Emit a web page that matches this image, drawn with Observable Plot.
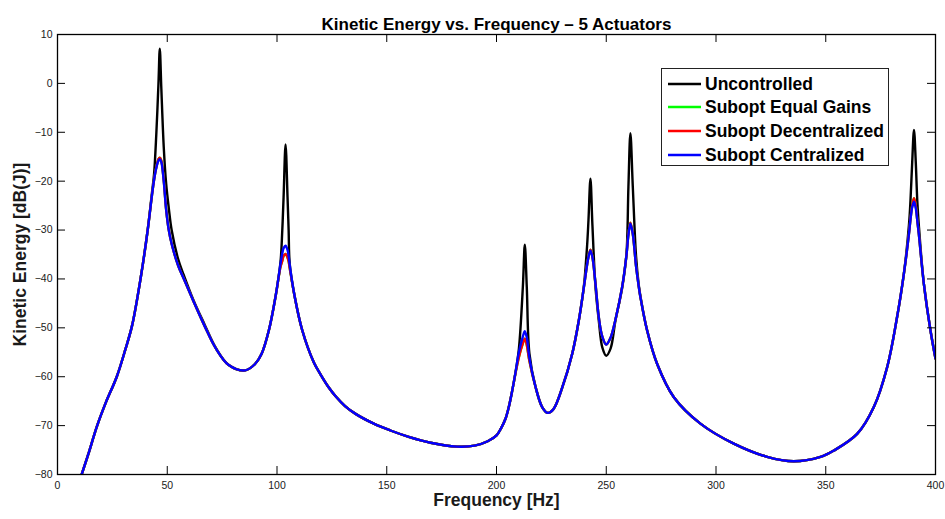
<!DOCTYPE html>
<html>
<head>
<meta charset="utf-8">
<script src="https://cdn.jsdelivr.net/npm/d3@7"></script>
<script src="https://cdn.jsdelivr.net/npm/@observablehq/plot@0.6"></script>
<style>
  html, body { margin: 0; padding: 0; background: #fff; }
  #wrap { position: relative; width: 945px; height: 519px; font-family: "Liberation Sans", Arial, Helvetica, sans-serif; }
  #chart { position: absolute; left: 0; top: 0; }
  #legend { position: absolute; left: 661px; top: 68px; width: 228px; height: 98px; border: 1px solid #222; background: #fff; box-sizing: border-box; }
  .item { position: absolute; left: 6px; height: 20px; display: flex; align-items: center; font-weight: bold; font-size: 17.5px; white-space: nowrap; color: #000; }
  .item svg { margin-right: 4px; }
</style>
</head>
<body>
<div id="wrap">
  <div id="chart"></div>
  <div id="legend"></div>
</div>
<script>
const freq = [11, 14, 18, 22, 27, 31, 34, 38, 41, 43,
  44, 45, 46, 46.6, 47.3, 48.4, 49.5, 50.7, 52, 55,
  57.6, 62, 67, 72, 78, 85.5, 90, 93, 96.3, 99.3,
  101.6, 102.4, 103, 103.9, 104.8, 105.3, 105.8, 108.1, 111.5, 116.8,
  119.8, 123.6, 126.7, 131, 135.8, 144.1, 151.7, 160, 170, 182,
  190, 196, 200, 202, 204.1, 205.6, 207.1, 208.7, 210.2, 212,
  212.9, 213.8, 215, 217.8, 220.8, 223.4, 226, 229.9, 234.5, 237.5,
  239.8, 241.3, 241.9, 242.8, 243.7, 245.1, 246.6, 248.2, 250, 252,
  254.2, 257.3, 259.2, 260.1, 261, 262.1, 263.6, 264.8, 265.6, 268.6,
  273.2, 280.8, 292.9, 308.1, 323.3, 335.4, 347.6, 353.7, 364.3, 371.9,
  378, 382.5, 385.6, 387.9, 388.6, 389.4, 390.2, 391, 391.7, 392.4,
  394.7, 397.7, 400];

const uncontrolled = [-80, -75.9, -70.1, -65.3, -60, -54.3, -49.5, -39.5, -30.3, -22.5,
  -18.5, -10.5, 0, 7.1, -1, -13, -20.5, -25.5, -30, -36,
  -39.3, -44.4, -49.3, -54, -57.6, -58.7, -57.4, -55.3, -50.5, -43.7,
  -36.5, -30.1, -23.3, -12.5, -23.3, -30, -36.9, -43.7, -50.5, -57.1,
  -59.5, -62.2, -64, -66, -67.6, -69.6, -71, -72.3, -73.5, -74.3,
  -74.1, -73.2, -72, -70.6, -68.6, -66.2, -63, -59, -54.3, -41.7,
  -33, -41.7, -55.3, -62.1, -66.2, -67.4, -66.6, -62.3, -55.3, -48.5,
  -41.5, -33, -28, -19.5, -29, -41.7, -48.5, -54, -55.7, -54.2,
  -48.5, -41.7, -34.9, -21.2, -10.2, -21.2, -35.5, -41.2, -43.6, -50.5,
  -57.4, -64.2, -69.6, -73.7, -76.4, -77.3, -76.4, -75.1, -71.7, -66.2,
  -58, -47.8, -38.9, -29, -24, -16, -9.5, -16, -24, -29,
  -41, -50.5, -56.3];

const equalGains = [-80, -75.9, -70.1, -65.3, -60, -54.3, -49.5, -39.5, -30.3, -23,
  -19.7, -17.2, -15.5, -15.2, -15.8, -19.8, -25.8, -30, -32.8, -37.3,
  -40, -44.6, -49.6, -54.1, -57.6, -58.7, -57.4, -55.3, -50.5, -43.7,
  -37.5, -36.3, -35.3, -34.9, -35.6, -36.4, -37.8, -43.7, -50.5, -57.1,
  -59.5, -62.2, -64, -66, -67.6, -69.6, -71, -72.3, -73.5, -74.3,
  -74.1, -73.2, -72, -70.6, -68.6, -66.2, -63, -59.2, -56, -53.2,
  -52.2, -53.5, -56.8, -62.1, -66.2, -67.4, -66.6, -62.3, -55.3, -48.5,
  -41.7, -37, -35.5, -34, -35.5, -41, -47.8, -51.8, -53.4, -52,
  -48.3, -41.5, -35.2, -30.9, -28.5, -30.8, -37.5, -41.5, -43.8, -50.5,
  -57.4, -64.2, -69.6, -73.7, -76.4, -77.3, -76.4, -75.1, -71.7, -66.2,
  -58, -47.8, -38.9, -30.8, -27.8, -25, -23.5, -25, -28, -30.8,
  -41, -50.5, -56.3];

const decentralized = [-80, -75.9, -70.1, -65.3, -60, -54.3, -49.5, -39.5, -30.3, -23,
  -19.7, -17.2, -15.5, -15.2, -15.8, -19.8, -25.8, -30, -32.8, -37.3,
  -40, -44.6, -49.6, -54.1, -57.6, -58.7, -57.4, -55.3, -50.5, -43.7,
  -37.5, -36.3, -35.3, -34.9, -35.6, -36.4, -37.8, -43.7, -50.5, -57.1,
  -59.5, -62.2, -64, -66, -67.6, -69.6, -71, -72.3, -73.5, -74.3,
  -74.1, -73.2, -72, -70.6, -68.6, -66.2, -63, -59.2, -56, -53.2,
  -52.2, -53.5, -56.8, -62.1, -66.2, -67.4, -66.6, -62.3, -55.3, -48.5,
  -41.7, -37, -35.5, -34, -35.5, -41, -47.8, -51.8, -53.4, -52,
  -48.3, -41.5, -35.2, -30.9, -28.5, -30.8, -37.5, -41.5, -43.8, -50.5,
  -57.4, -64.2, -69.6, -73.7, -76.4, -77.3, -76.4, -75.1, -71.7, -66.2,
  -58, -47.8, -38.9, -30.8, -27.8, -25, -23.5, -25, -28, -30.8,
  -41, -50.5, -56.3];

const centralized = [-80, -75.9, -70.1, -65.3, -60, -54.3, -49.5, -39.5, -30.3, -23,
  -19.7, -17.3, -15.8, -15.5, -16.1, -20, -25.8, -30, -32.8, -37.3,
  -40, -44.6, -49.6, -54.1, -57.6, -58.7, -57.4, -55.3, -50.5, -43.7,
  -36.9, -34.8, -33.7, -33.2, -34.1, -35.3, -37.2, -43.7, -50.5, -57.1,
  -59.5, -62.2, -64, -66, -67.6, -69.6, -71, -72.3, -73.5, -74.3,
  -74.1, -73.2, -72, -70.6, -68.6, -66.2, -63, -59, -55, -51.8,
  -50.7, -52, -56.2, -62.1, -66.2, -67.4, -66.6, -62.3, -55.3, -48.5,
  -41.7, -37, -35.5, -34.2, -35.5, -41, -47.8, -51.8, -53.4, -52,
  -48.3, -41.5, -35.2, -31, -28.7, -30.8, -37.5, -41.5, -43.8, -50.5,
  -57.4, -64.2, -69.6, -73.7, -76.4, -77.3, -76.4, -75.1, -71.7, -66.2,
  -58, -47.8, -38.9, -30.8, -27.8, -25.3, -24.2, -25.5, -28, -30.8,
  -41, -50.5, -56.3];

const seriesNames = ["Uncontrolled", "Subopt Equal Gains", "Subopt Decentralized", "Subopt Centralized"];
const seriesColors = ["#000000", "#00ff00", "#ff0000", "#0000ff"];
const seriesValues = [uncontrolled, equalGains, decentralized, centralized];

const xTicks = [0, 50, 100, 150, 200, 250, 300, 350, 400];
const yTicks = [-80, -70, -60, -50, -40, -30, -20, -10, 0, 10];
const titleText = "Kinetic Energy vs. Frequency – 5 Actuators";
const xLabel = "Frequency [Hz]";
const yLabel = "Kinetic Energy [dB(J)]";

const W = 945, H = 519, mL = 57, mR = 10, mT = 34, mB = 45;
const innerW = W - mL - mR, innerH = H - mT - mB;
const tickLen = 8;

const lines = seriesValues.map((vals, k) =>
  Plot.line(freq.map((f, i) => ({f, v: vals[i]})), {
    x: "f", y: "v", stroke: seriesColors[k], strokeWidth: 2.4,
    curve: "catmull-rom", clip: true
  })
);

const chart = Plot.plot({
  width: W, height: H,
  marginLeft: mL, marginRight: mR, marginTop: mT, marginBottom: mB,
  style: {fontFamily: "Liberation Sans, Arial, Helvetica, sans-serif", fontSize: "10.5px", color: "#1a1a1a", background: "#fff"},
  x: {domain: [0, 400], ticks: xTicks, tickSize: 0, tickPadding: 7, label: null},
  y: {domain: [-80, 10], ticks: yTicks, tickSize: 0, tickPadding: 5, label: null},
  marks: [
    ...lines,
    Plot.tickX(xTicks, {x: d => d, insetTop: innerH - tickLen, stroke: "#000", strokeWidth: 1}),
    Plot.tickX(xTicks, {x: d => d, insetBottom: innerH - tickLen, stroke: "#000", strokeWidth: 1}),
    Plot.tickY(yTicks, {y: d => d, insetRight: innerW - tickLen, stroke: "#000", strokeWidth: 1}),
    Plot.tickY(yTicks, {y: d => d, insetLeft: innerW - tickLen, stroke: "#000", strokeWidth: 1}),
    Plot.frame({stroke: "#000", strokeWidth: 1.3}),
    Plot.text([titleText], {text: d => d, frameAnchor: "top", dy: -17, fontWeight: "bold", fontSize: 17, fill: "#000"}),
    Plot.text([xLabel], {text: d => d, frameAnchor: "bottom", dy: 31, fontWeight: "bold", fontSize: 17.5, fill: "#1a1a1a"}),
    Plot.text([yLabel], {text: d => d, frameAnchor: "left", textAnchor: "middle", dx: -37, rotate: -90, fontWeight: "bold", fontSize: 17.5, fill: "#1a1a1a"})
  ]
});
document.getElementById("chart").appendChild(chart);

// legend
const legend = document.getElementById("legend");
const rowTops = [5, 28, 52, 76];
seriesNames.forEach((name, k) => {
  const item = document.createElement("div");
  item.className = "item";
  item.style.top = rowTops[k] + "px";
  item.innerHTML = `<svg width="33" height="4"><line x1="0" x2="33" y1="2" y2="2" stroke="${seriesColors[k]}" stroke-width="2.3"/></svg><span>${name}</span>`;
  legend.appendChild(item);
});
</script>
</body>
</html>
